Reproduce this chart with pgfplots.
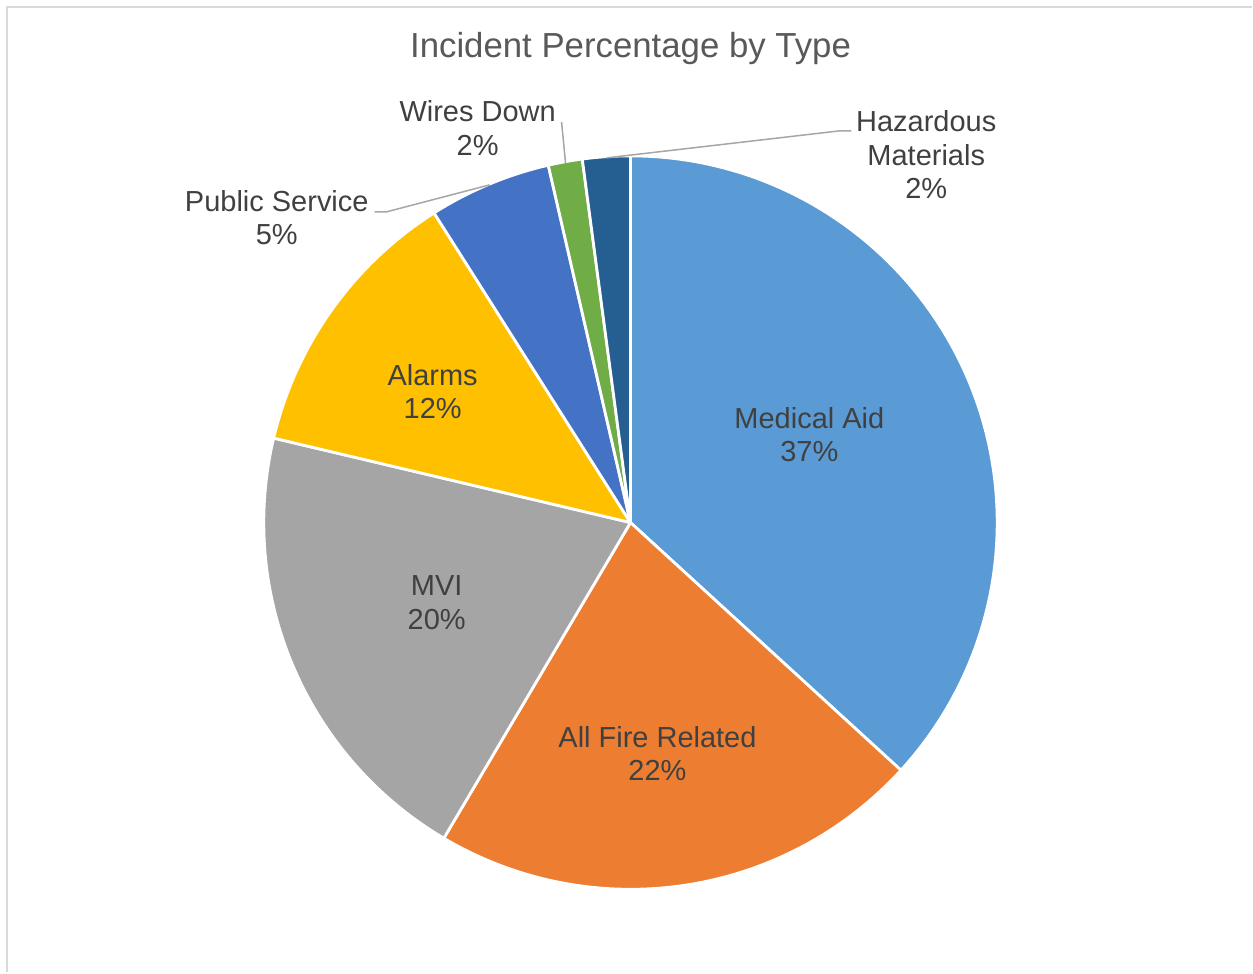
\documentclass[border=0pt]{standalone}
\usepackage{pgfplots}
\pgfplotsset{compat=1.18}
\usepackage{fontspec}
\setmainfont{Liberation Sans}
\definecolor{cMed}{HTML}{5B9BD5}
\definecolor{cFire}{HTML}{ED7D31}
\definecolor{cMVI}{HTML}{A5A5A5}
\definecolor{cAlarm}{HTML}{FFC000}
\definecolor{cPub}{HTML}{4472C4}
\definecolor{cWire}{HTML}{70AD47}
\definecolor{cHaz}{HTML}{255E91}
\definecolor{ctext}{HTML}{404040}
\definecolor{ctitle}{HTML}{595959}
\definecolor{cline}{HTML}{A6A6A6}
\definecolor{cframe}{HTML}{D9D9D9}
% incident shares (percent)
\def\vMed{36.8}
\def\vFire{21.7}
\def\vMVI{20.2}
\def\vAlarm{12.3}
\def\vPub{5.4}
\def\vWire{1.5}
\def\vHaz{2.1}
\pgfmathsetmacro{\aA}{90}
\pgfmathsetmacro{\aB}{\aA-3.6*\vMed}
\pgfmathsetmacro{\aC}{\aB-3.6*\vFire}
\pgfmathsetmacro{\aD}{\aC-3.6*\vMVI}
\pgfmathsetmacro{\aE}{\aD-3.6*\vAlarm}
\pgfmathsetmacro{\aF}{\aE-3.6*\vPub}
\pgfmathsetmacro{\aG}{\aF-3.6*\vWire}
\pgfmathsetmacro{\aH}{\aG-3.6*\vHaz}
\newcommand{\slice}[3]{%
  \addplot[fill=#1, draw=white, line width=1.4pt, line join=round, domain=#3:#2, samples=90, variable=\t]
    ({631+367*cos(\t)},{523-367*sin(\t)}) -- (axis cs:631,523) -- cycle;}
\begin{document}
\begin{tikzpicture}
\begin{axis}[scale only axis, width=626.5pt, height=486.5pt,
  xmin=0, xmax=1253, ymin=0, ymax=973, y dir=reverse,
  hide axis, clip=false]
\path (axis cs:0,0) rectangle (axis cs:1253,973);
\draw[cframe, line width=1pt] (axis cs:7,973) -- (axis cs:7,7) -- (axis cs:1253,7);
\slice{cMed}{\aA}{\aB}
\slice{cFire}{\aB}{\aC}
\slice{cMVI}{\aC}{\aD}
\slice{cAlarm}{\aD}{\aE}
\slice{cPub}{\aE}{\aF}
\slice{cWire}{\aF}{\aG}
\slice{cHaz}{\aG}{\aH}
% leader lines
\draw[cline, line width=0.75pt] (axis cs:375,212) -- (axis cs:387,212) -- (axis cs:490,185);
\draw[cline, line width=0.75pt] (axis cs:562,122) -- (axis cs:566,163);
\draw[cline, line width=0.75pt] (axis cs:852,131) -- (axis cs:840,131) -- (axis cs:607,158);
% title
\node[text=ctitle, font=\fontsize{17.4}{20}\selectfont] at (axis cs:631,49) {Incident Percentage by Type};
% labels
\tikzset{lab/.style={text=ctext, align=center, font=\fontsize{14.5}{16.75}\selectfont, inner sep=0pt}}
\node[lab] at (axis cs:810,435) {Medical Aid\\37\%};
\node[lab] at (axis cs:658,754) {All Fire Related\\22\%};
\node[lab] at (axis cs:437,603) {MVI\\20\%};
\node[lab] at (axis cs:433,392) {Alarms\\12\%};
\node[lab] at (axis cs:277,218) {Public Service\\5\%};
\node[lab] at (axis cs:478,128) {Wires Down\\2\%};
\node[lab] at (axis cs:927,155) {Hazardous\\Materials\\2\%};
\end{axis}
\end{tikzpicture}
\end{document}
